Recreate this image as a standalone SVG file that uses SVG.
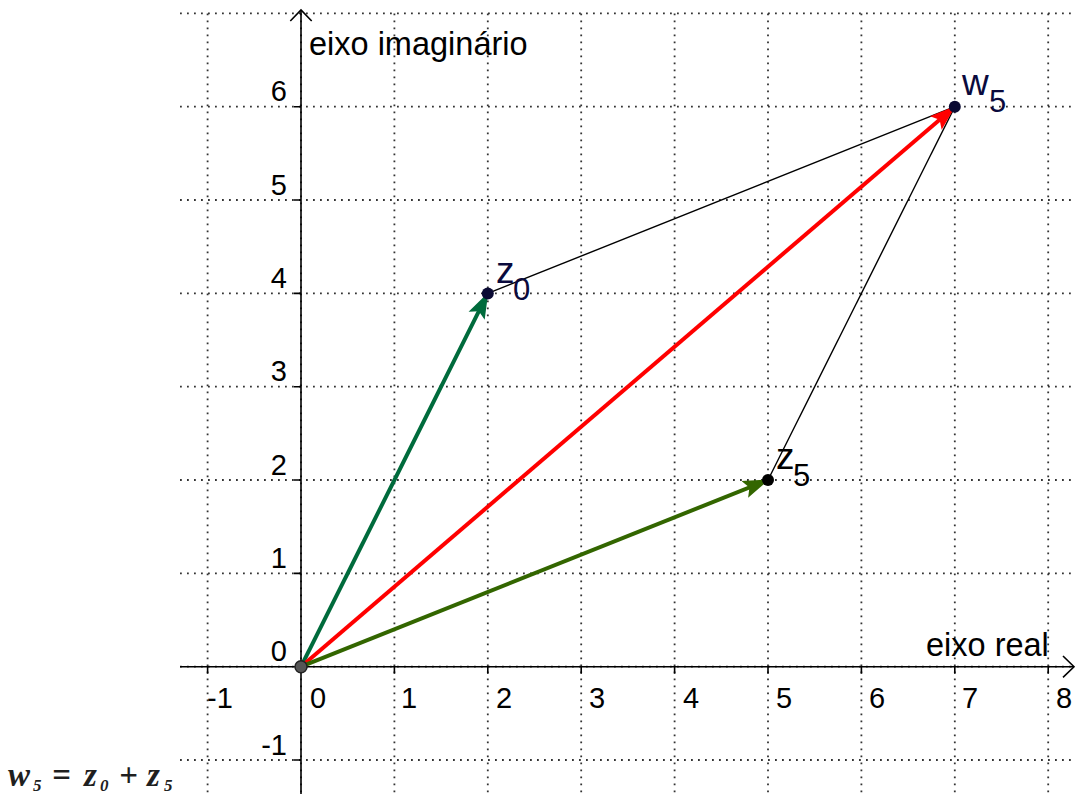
<svg xmlns="http://www.w3.org/2000/svg" width="1076" height="794" viewBox="0 0 1076 794">
<style>
.grid line{stroke:#333;stroke-width:1.8;stroke-dasharray:1.8 5.2;}
.axis{stroke:#000;stroke-width:1.6;fill:none;}
.num{font-family:"Liberation Sans",Arial,sans-serif;font-size:29px;fill:#000;}
.lab{font-family:"Liberation Sans",Arial,sans-serif;font-size:32.5px;fill:#000;}
.pt{font-family:"Liberation Sans",Arial,sans-serif;font-size:37px;}
.sub{font-size:31px;}
.vec{stroke-width:4;fill:none;}
.edge{stroke:#000;stroke-width:1.4;fill:none;}
.f{font-family:"Liberation Serif","Times New Roman",serif;font-style:italic;font-weight:bold;fill:#1f1f1f;}
</style>
<defs>
<marker id="ahTeal" markerUnits="userSpaceOnUse" markerWidth="26" markerHeight="20" viewBox="0 0 26 20" refX="25" refY="10" orient="auto"><path d="M0,1 L26,10 L0,19 L5,10 Z" fill="#006b3c"/></marker>
<marker id="ahRed" markerUnits="userSpaceOnUse" markerWidth="26" markerHeight="20" viewBox="0 0 26 20" refX="25" refY="10" orient="auto"><path d="M0,1 L26,10 L0,19 L5,10 Z" fill="#ff0000"/></marker>
<marker id="ahOlive" markerUnits="userSpaceOnUse" markerWidth="26" markerHeight="20" viewBox="0 0 26 20" refX="25" refY="10" orient="auto"><path d="M0,1 L26,10 L0,19 L5,10 Z" fill="#336600"/></marker>
</defs>
<rect width="1076" height="794" fill="#fff"/>
<g id="grid" class="grid">
<line x1="207.6" y1="13.4" x2="207.6" y2="794"/>
<line x1="394.4" y1="13.4" x2="394.4" y2="794"/>
<line x1="487.8" y1="13.4" x2="487.8" y2="794"/>
<line x1="581.2" y1="13.4" x2="581.2" y2="794"/>
<line x1="674.6" y1="13.4" x2="674.6" y2="794"/>
<line x1="768" y1="13.4" x2="768" y2="794"/>
<line x1="861.4" y1="13.4" x2="861.4" y2="794"/>
<line x1="954.8" y1="13.4" x2="954.8" y2="794"/>
<line x1="1048.2" y1="13.4" x2="1048.2" y2="794"/>
<line x1="180" y1="13.4" x2="1076" y2="13.4"/>
<line x1="180" y1="106.7" x2="1076" y2="106.7"/>
<line x1="180" y1="200" x2="1076" y2="200"/>
<line x1="180" y1="293.4" x2="1076" y2="293.4"/>
<line x1="180" y1="386.7" x2="1076" y2="386.7"/>
<line x1="180" y1="480" x2="1076" y2="480"/>
<line x1="180" y1="573.4" x2="1076" y2="573.4"/>
<line x1="180" y1="666.7" x2="1076" y2="666.7"/>
<line x1="180" y1="760" x2="1076" y2="760"/>
<line x1="301" y1="13.4" x2="301" y2="794"/>
</g>
<g id="axes">
<line class="axis" x1="180" y1="666.7" x2="1074" y2="666.7"/>
<polyline class="axis" points="1063,656 1074,666.7 1063,677.4"/>
<line class="axis" x1="301" y1="794" x2="301" y2="10"/>
<polyline class="axis" points="290.3,21 301,10 311.7,21"/>
<path class="axis" d="M207.6,666.7v7M394.4,666.7v7M487.8,666.7v7M581.2,666.7v7M674.6,666.7v7M768,666.7v7M861.4,666.7v7M954.8,666.7v7M1048.2,666.7v7M301,106.7h-7M301,200h-7M301,293.4h-7M301,386.7h-7M301,480h-7M301,573.4h-7M301,760h-7"/>
<text class="lab" x="309" y="55">eixo imaginário</text>
<text class="lab" x="926" y="656">eixo real</text>
<g class="num">
<text x="207" y="708">-1</text>
<text x="310" y="708">0</text>
<text x="401" y="708">1</text>
<text x="496" y="708">2</text>
<text x="589" y="708">3</text>
<text x="683" y="708">4</text>
<text x="776" y="708">5</text>
<text x="869" y="708">6</text>
<text x="962" y="708">7</text>
<text x="1056" y="708">8</text>
</g>
<g class="num" text-anchor="end">
<text x="287" y="101">6</text>
<text x="287" y="195">5</text>
<text x="287" y="288">4</text>
<text x="287" y="381">3</text>
<text x="287" y="475">2</text>
<text x="287" y="568">1</text>
<text x="287" y="661">0</text>
<text x="287" y="755">-1</text>
</g>
</g>
<g id="connectors">
<line class="edge" x1="487.8" y1="293.4" x2="954.8" y2="106.7"/>
<line class="edge" x1="768" y1="480" x2="954.8" y2="106.7"/>
<line class="vec" stroke="#006b3c" x1="301" y1="666.7" x2="487.8" y2="293.4" marker-end="url(#ahTeal)"/>
<line class="vec" stroke="#ff0000" x1="301" y1="666.7" x2="954.8" y2="106.7" marker-end="url(#ahRed)"/>
<line class="vec" stroke="#336600" x1="301" y1="666.7" x2="768" y2="480" marker-end="url(#ahOlive)"/>
</g>
<g id="node-origin"><circle cx="301" cy="666.7" r="6" fill="#555" stroke="#222" stroke-width="1.5"/></g>
<g id="node-z0">
<circle cx="487.8" cy="293.4" r="6" fill="#0a0a33"/>
<text class="pt" fill="#0a0a3d" x="496" y="283">z<tspan class="sub" x="513" y="300">0</tspan></text>
</g>
<g id="node-z5">
<circle cx="768" cy="480" r="6" fill="#000"/>
<text class="pt" fill="#000" x="776" y="469">z<tspan class="sub" x="793" y="486">5</tspan></text>
</g>
<g id="node-w5">
<circle cx="954.8" cy="106.7" r="6" fill="#0a0a33"/>
<text class="pt" fill="#0a0a3d" x="962" y="95">w<tspan class="sub" x="989" y="112">5</tspan></text>
</g>
<g id="formula" class="f">
<text font-size="33" x="8" y="786">w</text>
<text font-size="17" x="33" y="791">5</text>
<text font-size="33" x="52" y="786">=</text>
<text font-size="33" x="84" y="786">z</text>
<text font-size="17" x="100" y="791">0</text>
<text font-size="33" x="119" y="786">+</text>
<text font-size="33" x="147" y="786">z</text>
<text font-size="17" x="164" y="791">5</text>
</g>
</svg>
